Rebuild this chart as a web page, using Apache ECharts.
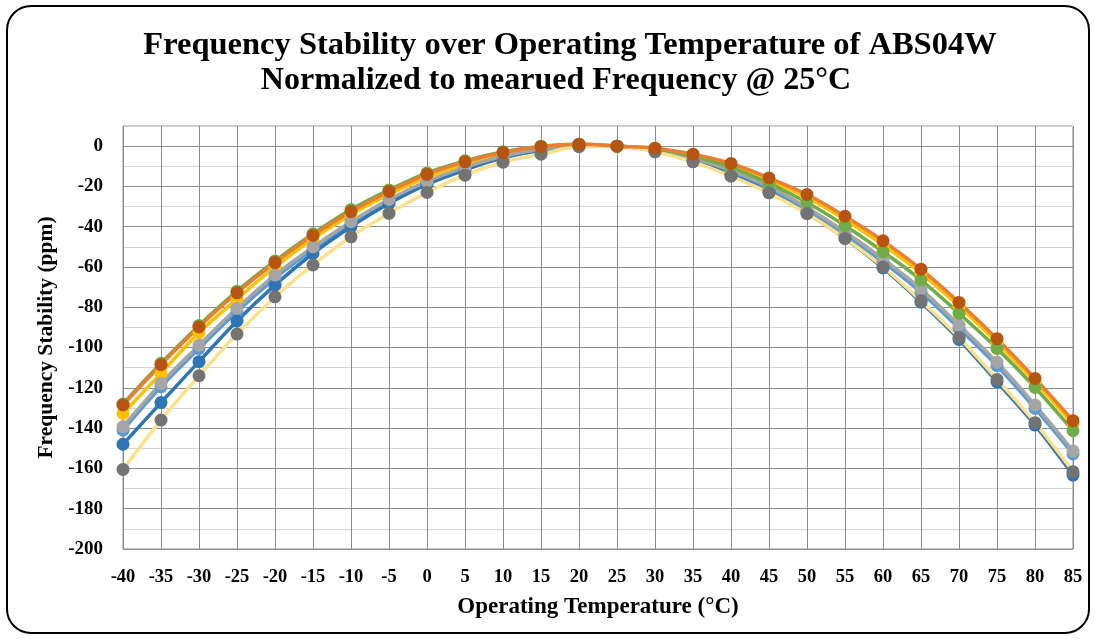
<!DOCTYPE html>
<html>
<head>
<meta charset="utf-8">
<script src="https://cdn.jsdelivr.net/npm/echarts@6/dist/echarts.min.js"></script>
<style>
html,body{margin:0;padding:0;background:#fff;}
#chart{width:1095px;height:639px;}
</style>
</head>
<body>
<div id="chart"></div>
<script>
const temps = [-40,-35,-30,-25,-20,-15,-10,-5,0,5,10,15,20,25,30,35,40,45,50,55,60,65,70,75,80,85];

const lightBlueVals = [-141,-119.5,-100.5,-82.2,-65.6,-51.4,-38.8,-27.6,-18.4,-11.2,-5.6,-1.9,0.1,0,-2.4,-6.8,-13.2,-21.4,-32,-44,-57.6,-72.6,-90.4,-109,-130.2,-152.8];
const blueVals = [-148,-127.3,-107,-86.8,-69,-53.3,-40,-28.5,-19,-11.8,-5.8,-2,0,0,-2.5,-7.3,-14.3,-22.8,-33.3,-45.8,-60.5,-77.5,-96,-117,-138.5,-163.3];
const yellowVals = [-132.7,-112.8,-92.6,-75.9,-60,-46,-34,-24,-15.5,-9,-4,-0.8,0.8,0,-1.2,-4.5,-9.5,-17,-25.5,-36.5,-49,-63,-79.5,-97.5,-117,-138];
const grayVals = [-139.3,-117.8,-98.8,-80.5,-64,-50,-37.5,-26.5,-17.5,-10.5,-5,-1.5,0.3,0,-2,-6,-12,-20,-30.5,-42.5,-56,-71,-88.8,-107.3,-128.5,-151.4];
const greenVals = [-128,-107.8,-89,-72,-57,-43.5,-31.5,-21.8,-13.3,-7.3,-2.8,0,1,0,-1.5,-5,-10.5,-18.5,-28,-39.5,-52.4,-66.5,-83,-100.4,-119.8,-141.3];
const darkGrayVals = [-160.5,-136,-114,-93.3,-74.8,-59,-45,-33.4,-23,-14.4,-8,-4,-0.3,0,-2.8,-7.8,-14.9,-23.2,-33.5,-45.8,-60,-76.8,-95,-115.8,-137.3,-161.6];
const brownVals = [-128.5,-108.5,-89.8,-72.8,-57.8,-44.3,-32.5,-22.5,-14,-7.8,-3.2,-0.3,1,0,-1,-4,-8.6,-15.8,-24,-34.8,-47,-61.1,-77.6,-95.6,-115.3,-136.3];

const yTicks = [-200,-180,-160,-140,-120,-100,-80,-60,-40,-20,0];

const titleLine1 = 'Frequency Stability over Operating Temperature of ABS04W';
const titleLine2 = 'Normalized to mearued Frequency @ 25°C';
const xName = 'Operating Temperature (°C)';
const yName = 'Frequency Stability (ppm)';

function pairs(vals){ return temps.map((t,i)=>[t, vals[i]]); }

const serif = '"Liberation Serif", "Times New Roman", serif';

function mk(name, vals, lineColor, markColor){
  return {
    name, type:'line', smooth:0.4, data: pairs(vals),
    symbol:'circle', symbolSize:13, showAllSymbol:true,
    lineStyle:{color:lineColor, width:3.5},
    itemStyle:{color:markColor, borderWidth:0},
    emphasis:{disabled:true}, animation:false
  };
}

const chart = echarts.init(document.getElementById('chart'));
chart.setOption({
  animation:false,
  backgroundColor:'#fff',
  graphic:[
    {type:'rect', shape:{x:7,y:6,width:1082,height:627,r:24}, style:{fill:'none', stroke:'#000', lineWidth:2}, silent:true},
    {type:'text', style:{text:titleLine1, x:570, y:46, textAlign:'center', textVerticalAlign:'middle', font:'bold 32.5px '+serif, fill:'#000'}},
    {type:'text', style:{text:titleLine2, x:556, y:81, textAlign:'center', textVerticalAlign:'middle', font:'bold 32px '+serif, fill:'#000'}}
  ],
  grid:{left:123, right:22, top:126, bottom:90, show:true, borderColor:'#8c8c8c', borderWidth:1},
  xAxis:{
    type:'value', min:-40, max:85, interval:5,
    name:xName, nameLocation:'middle', nameGap:47,
    nameTextStyle:{fontFamily:serif, fontWeight:'bold', fontSize:23, color:'#000'},
    axisLine:{show:false}, axisTick:{show:false},
    axisLabel:{fontFamily:serif, fontWeight:'bold', fontSize:18.5, color:'#000', margin:19},
    splitLine:{show:true, lineStyle:{color:'#8c8c8c', width:1}}
  },
  yAxis:{
    type:'value', min:-200, max:10, interval:10,
    name:yName, nameLocation:'middle', nameGap:65,
    nameTextStyle:{fontFamily:serif, fontWeight:'bold', fontSize:21.5, color:'#000'},
    axisLine:{show:false}, axisTick:{show:false},
    axisLabel:{fontFamily:serif, fontWeight:'bold', fontSize:19, color:'#000', margin:20,
      formatter:v => yTicks.includes(v) ? String(v) : ''},
    splitLine:{show:true, lineStyle:{color:['#8c8c8c','#d4d4d4'], width:1}}
  },
  series:[
    mk('S1', lightBlueVals, '#5B9BD5', '#5B9BD5'),
    mk('S2', blueVals, '#2E75B6', '#2E75B6'),
    mk('S3', yellowVals, '#FFC000', '#FFC000'),
    mk('S4', grayVals, '#A5A5A5', '#A5A5A5'),
    mk('S5', greenVals, '#70AD47', '#70AD47'),
    mk('S6', darkGrayVals, '#FFE08A', '#737373'),
    mk('S7', brownVals, '#ED7D31', '#B85412')
  ]
});
</script>
</body>
</html>
